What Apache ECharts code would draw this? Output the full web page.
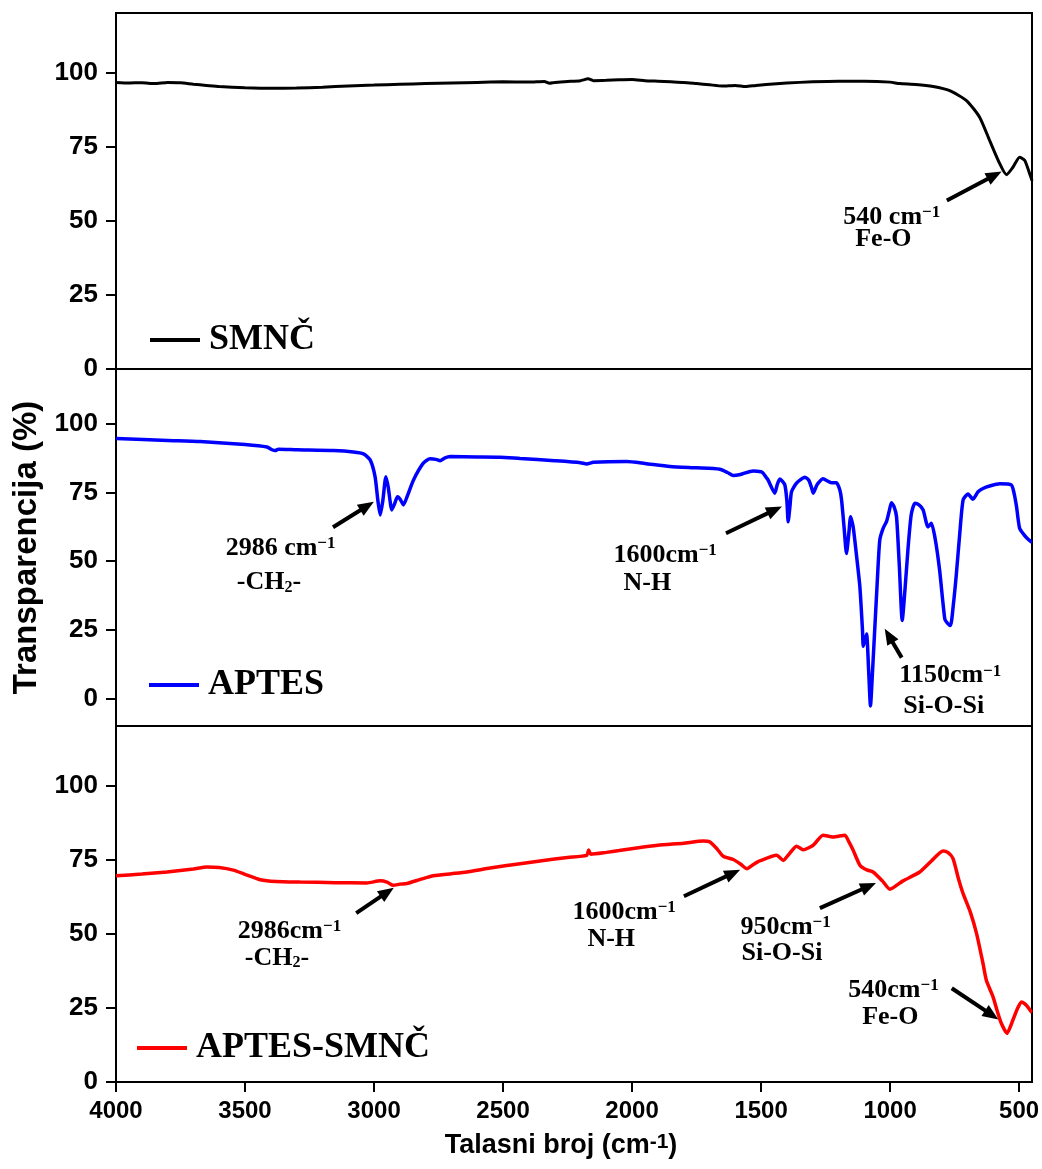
<!DOCTYPE html>
<html>
<head>
<meta charset="utf-8">
<script src="https://cdn.jsdelivr.net/npm/echarts@6/dist/echarts.min.js"></script>
<style>
  html, body { margin: 0; padding: 0; background: #fff; }
  #chart { width: 1042px; height: 1169px; }
</style>
</head>
<body>
<div id="chart"></div>
<script>
// wavenumber ticks and transmittance ticks
const wnTicks = [500, 1000, 1500, 2000, 2500, 3000, 3500, 4000];
const tTicks = [0, 25, 50, 75, 100];

// [wavenumber cm-1, transmittance %]
const smnc = [
  [4000,96.6],[3950,96.4],[3900,96.5],[3850,96.2],[3800,96.6],[3750,96.5],[3700,96.0],[3650,95.6],
  [3600,95.2],[3500,94.8],[3400,94.6],[3300,94.7],[3200,95.0],[3100,95.4],[3000,95.7],[2900,96.0],
  [2800,96.2],[2700,96.4],[2600,96.6],[2500,96.8],[2400,96.7],[2340,96.9],[2320,96.3],[2300,96.6],
  [2250,96.9],[2200,97.2],[2170,97.8],[2150,97.2],[2100,97.3],[2050,97.5],[2000,97.6],[1950,97.2],
  [1900,97.0],[1850,96.8],[1800,96.6],[1750,96.2],[1700,95.8],[1650,95.4],[1600,95.6],[1560,95.2],
  [1520,95.6],[1480,95.9],[1400,96.4],[1300,96.8],[1200,97.0],[1100,97.0],[1000,96.7],[963,96.2],
  [900,95.9],[833,95.2],[769,93.8],[704,90.5],[653,84.9],[614,77.0],[575,69.2],[549,65.5],
  [524,68.0],[498,71.4],[478,70.3],[459,65.8],[450,63.5]
];

const aptes = [
  [4000,94.7],[3800,94.0],[3674,93.6],[3500,92.5],[3415,91.6],[3395,90.6],[3383,90.3],[3370,90.8],
  [3300,90.6],[3157,90.3],[3080,89.8],[3041,89.1],[3015,86.9],[2996,80.8],[2985,72],[2976,66.8],
  [2966,72],[2954,80.8],[2945,77],[2931,68.7],[2920,71],[2909,73.5],[2898,72.5],[2886,70.5],
  [2870,74],[2847,79.6],[2809,85.7],[2783,87.3],[2760,87.1],[2744,86.6],[2725,87.6],[2705,88.1],
  [2600,88.0],[2512,87.9],[2434,87.4],[2300,86.6],[2200,85.9],[2176,85.4],[2150,86.0],[2021,86.3],
  [1950,85.6],[1853,84.5],[1750,84.0],[1660,83.5],[1630,82.3],[1608,81.2],[1580,81.6],[1531,82.9],
  [1500,82.6],[1492,82.1],[1480,80.5],[1473,79.6],[1447,74.8],[1437,78],[1427,79.9],[1408,77.8],
  [1400,72],[1395,64.4],[1388,70],[1382,75.3],[1363,78.4],[1330,80.6],[1315,79.5],[1305,77],
  [1298,74.8],[1285,77.5],[1279,78.4],[1260,80.0],[1227,78.6],[1208,78.6],[1195,76],[1188,72.3],
  [1178,62],[1169,52.8],[1160,60],[1153,66.2],[1143,62.5],[1130,52],[1117,40.6],[1107,25],
  [1104,19],[1098,21],[1091,23.5],[1083,10],[1076,-2.7],[1068,10],[1059,26],[1050,42],
  [1040,57.7],[1027,62],[1014,64.4],[1004,68],[995,71.3],[985,70],[975,66.2],[964,48],
  [953,28.4],[942,40],[930,55.2],[918,67],[904,71.1],[888,70.5],[872,68.7],[853,62.5],
  [840,63.8],[825,58],[808,46.7],[788,29.0],[778,27.5],[766,26.6],[755,34],[743,45.5],
  [730,60],[717,72.3],[698,74.5],[679,72.6],[659,75.3],[640,76.5],[614,77.4],[575,78.2],
  [530,77.8],[520,75],[510,69.9],[498,62],[480,59.5],[465,58],[453,57.1],[450,57]
];

const aptesSmnc = [
  [4000,69.5],[3900,70.1],[3802,70.8],[3700,71.8],[3648,72.5],[3600,72.3],[3545,71.4],[3500,70.0],
  [3441,68.2],[3380,67.6],[3286,67.4],[3150,67.2],[3028,67.1],[2976,67.8],[2950,67.4],[2925,66.3],
  [2900,66.7],[2873,66.9],[2820,68.3],[2770,69.5],[2700,70.2],[2641,70.8],[2550,72.1],[2434,73.6],
  [2350,74.6],[2250,75.7],[2176,76.4],[2168,78.2],[2160,76.8],[2100,77.4],[2050,78.0],[1982,78.9],
  [1900,79.8],[1800,80.5],[1724,81.2],[1698,80.9],[1670,78.5],[1647,76.1],[1608,75.0],[1580,73.5],
  [1556,71.9],[1530,73.3],[1505,74.5],[1440,76.4],[1414,74.7],[1390,77],[1363,79.5],[1337,78.3],
  [1298,79.8],[1260,83.2],[1221,82.6],[1175,83.2],[1160,81],[1143,78.1],[1117,73.1],[1090,71.5],
  [1066,70.8],[1030,67.8],[1001,65.0],[950,67.8],[885,70.8],[840,74.5],[795,77.9],[775,77.3],
  [756,75.3],[735,68.5],[717,63.5],[690,57.5],[665,50.1],[640,40],[627,34.3],[601,28.7],
  [585,24],[569,19.8],[547,16.4],[524,20.9],[505,25],[491,27.0],[472,25.9],[453,23.7],[450,23.5]
];

// annotation arrows [from, to] and text anchors (left edge, middle) in data units
const arrows1 = [[[780,56.8],[595,65.3]]];
const arrows2 = [[[3159,62.4],[3027,70.1]], [[1636,60.2],[1447,68.7]], [[955,14.9],[1005,22.9]]];
const arrows3 = [[[3069,56.9],[2949,64.0]], [[1799,62.6],[1609,70.4]], [[1272,58.6],[1083,66.0]], [[761,31.6],[606,22.6]]];

const notes1 = [[1183,51.3,'{n|540 cm}{s|−1}'], [1137,43.6,'{n|Fe-O}']];
const notes2 = [
  [3577,54.8,'{n|2986 cm}{s|−1}'], [3534,42.3,'{n|-CH}{b|2}{n|-}'],
  [2074,52.2,'{n|1600cm}{s|−1}'], [2035,42.0,'{n|N-H}'],
  [966,8.3,'{n|1150cm}{s|−1}'], [951,-2.7,'{n|Si-O-Si}']
];
const notes3 = [
  [3530,50.8,'{n|2986cm}{s|−1}'], [3503,41.8,'{n|-CH}{b|2}{n|-}'],
  [2233,57.2,'{n|1600cm}{s|−1}'], [2175,48.1,'{n|N-H}'],
  [1582,52.2,'{n|950cm}{s|−1}'], [1578,43.4,'{n|Si-O-Si}'],
  [1164,31.0,'{n|540cm}{s|−1}'], [1110,21.9,'{n|Fe-O}']
];

const serif = 'Liberation Serif';
const sans = 'Liberation Sans';

const noteRich = {
  n: { fontFamily: serif, fontWeight: 'bold', fontSize: 26, color: '#000' },
  s: { fontFamily: serif, fontWeight: 'bold', fontSize: 17, color: '#000', verticalAlign: 'top' },
  b: { fontFamily: serif, fontWeight: 'bold', fontSize: 16, color: '#000', verticalAlign: 'bottom' }
};

function marks(arrows, notes) {
  return {
    markLine: {
      silent: true,
      animation: false,
      symbol: ['none', 'triangle'],
      symbolSize: [13, 16],
      lineStyle: { color: '#000', width: 4, type: 'solid' },
      label: { show: false },
      data: arrows.map(a => [{ coord: a[0] }, { coord: a[1] }])
    },
    markPoint: {
      silent: true,
      animation: false,
      symbol: 'circle',
      symbolSize: 1,
      itemStyle: { color: 'rgba(0,0,0,0)' },
      label: { show: true, position: 'right', distance: 0, rich: noteRich },
      data: notes.map(n => ({ coord: [n[0], n[1]], label: { formatter: n[2] } }))
    }
  };
}

const grids = [
  { left: 116, right: 10, top: 13, height: 356 },
  { left: 116, right: 10, top: 369, height: 357 },
  { left: 116, right: 10, top: 726, height: 356 }
].map(g => Object.assign(g, { show: true, borderColor: '#000', borderWidth: 2, containLabel: false, outerBoundsMode: 'none' }));

function xAxis(i, labels) {
  return {
    type: 'value', gridIndex: i, inverse: true, min: 450, max: 4000,
    splitLine: { show: false },
    axisLine: { show: false },
    axisTick: { show: labels, length: 10, inside: false, lineStyle: { color: '#000', width: 2 }, customValues: wnTicks },
    axisLabel: { show: labels, margin: 17, color: '#000', fontFamily: sans, fontWeight: 'bold', fontSize: 24,
      customValues: wnTicks, formatter: v => String(v) },
    name: labels ? 'Talasni broj (cm{sup|-1})' : '',
    nameLocation: 'middle',
    nameGap: 50,
    nameTextStyle: {
      fontFamily: sans, fontWeight: 'bold', fontSize: 27, color: '#000', padding: [0, 26, 0, 0],
      rich: { sup: { fontFamily: sans, fontWeight: 'bold', fontSize: 21, color: '#000', verticalAlign: 'top' } }
    }
  };
}

function yAxis(i, min, withName) {
  return {
    type: 'value', gridIndex: i, min: min, max: 120,
    splitLine: { show: false },
    axisLine: { show: false },
    axisTick: { length: 10, lineStyle: { color: '#000', width: 2 }, customValues: tTicks },
    axisLabel: { margin: 18, color: '#000', fontFamily: sans, fontWeight: 'bold', fontSize: 26, customValues: tTicks },
    name: withName ? 'Transparencija (%)' : '',
    nameLocation: 'middle',
    nameGap: 72,
    nameTextStyle: { fontFamily: sans, fontWeight: 'bold', fontSize: 33, color: '#000' }
  };
}

const legendBase = {
  icon: 'rect', itemWidth: 50, itemHeight: 4, padding: 0, selectedMode: false,
  textStyle: { fontFamily: serif, fontWeight: 'bold', fontSize: 36, color: '#000', padding: [0, 0, 0, 4] }
};

const lineBase = { type: 'line', showSymbol: false, smooth: 0.2, animation: false };

const chart = echarts.init(document.getElementById('chart'));
chart.setOption({
  backgroundColor: '#fff',
  animation: false,
  grid: grids,
  xAxis: [xAxis(0, false), xAxis(1, false), xAxis(2, true)],
  yAxis: [yAxis(0, 0, false), yAxis(1, -10, true), yAxis(2, 0, false)],
  legend: [
    Object.assign({ data: ['SMNČ'], left: 150, top: 322 }, legendBase),
    Object.assign({ data: ['APTES'], left: 149, top: 667 }, legendBase),
    Object.assign({ data: ['APTES-SMNČ'], left: 137, top: 1030 }, legendBase)
  ],
  series: [
    Object.assign({ name: 'SMNČ', xAxisIndex: 0, yAxisIndex: 0, data: smnc, color: '#000',
      lineStyle: { color: '#000', width: 3 } }, lineBase, marks(arrows1, notes1)),
    Object.assign({ name: 'APTES', xAxisIndex: 1, yAxisIndex: 1, data: aptes, color: '#0000ff',
      lineStyle: { color: '#0000ff', width: 3.5 } }, lineBase, marks(arrows2, notes2)),
    Object.assign({ name: 'APTES-SMNČ', xAxisIndex: 2, yAxisIndex: 2, data: aptesSmnc, color: '#ff0000',
      lineStyle: { color: '#ff0000', width: 3.5 } }, lineBase, marks(arrows3, notes3))
  ]
});
</script>
</body>
</html>
